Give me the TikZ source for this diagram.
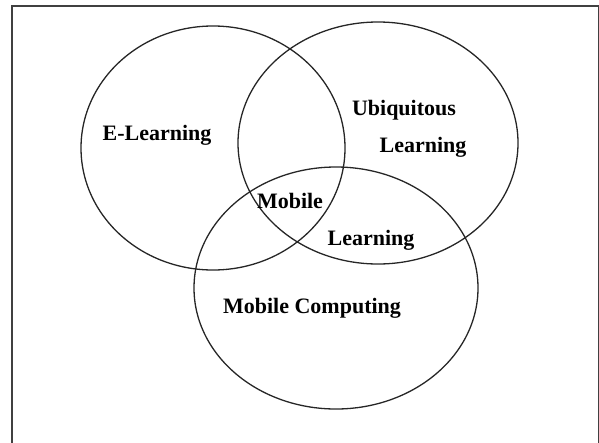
\documentclass[tikz,border=0pt]{standalone}
\usepackage{fontspec}
\setmainfont{Liberation Serif}
\usetikzlibrary{shapes.geometric}

\begin{document}
\begin{tikzpicture}
        [
          x=1pt, y=-1pt,
          field/.style={ellipse, draw=black!85, line width=1.3pt, inner sep=0pt},
          label/.style={anchor=base, font=\fontsize{22}{25}\selectfont\bfseries}
        ]
        \useasboundingbox (0,0) rectangle (599,442);
        % frame
        \draw [black!75, line width=1.8pt] (12,6) rectangle (598.5,446);
        % the three fields
        \node [field, minimum width=264pt, minimum height=244pt] (elearn) at (213,148) {};
        \node [field, minimum width=280pt, minimum height=242pt] (ubiq) at (378,143) {};
        \node [field, minimum width=284pt, minimum height=242pt] (mcomp) at (336,288) {};
        % labels
        \node [label] (el) at (157,140) {E-Learning};
        \node [label] (ub) at (404,115) {Ubiquitous};
        \node [label] (ul) at (423,152) {Learning};
        \node [label] (mb) at (290,208) {Mobile};
        \node [label] (ml) at (371,245) {Learning};
        \node [label] (mc) at (312,313) {Mobile Computing};
      \end{tikzpicture}
\end{document}
